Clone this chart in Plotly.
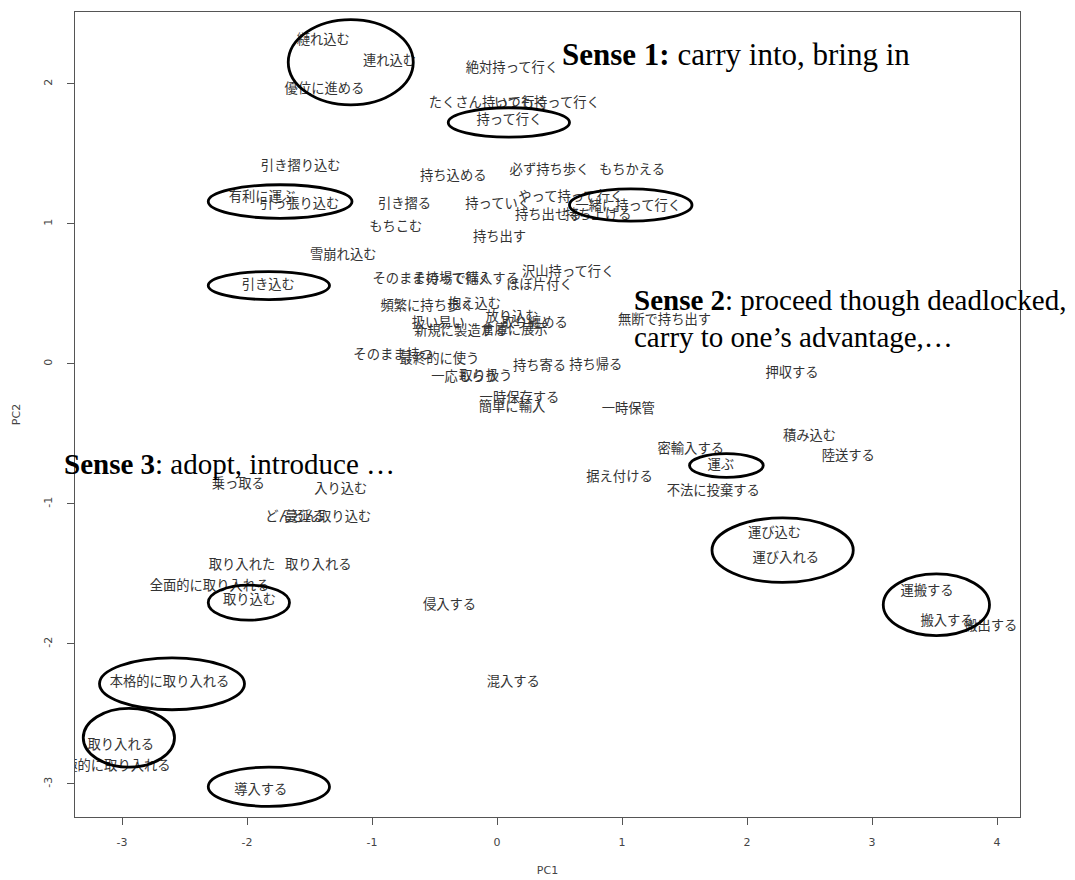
import plotly.graph_objects as go

# ---- data: PCA coordinates of the verbs/phrases ----
labels = [
    "縺れ込む", "連れ込む", "優位に進める", "絶対持って行く", "たくさん持って行く", "いつも持って行く",
    "持って行く", "引き摺り込む", "持ち込める", "必ず持ち歩く", "もちかえる", "有利に運ぶ",
    "引っ張り込む", "引き摺る", "持っていく", "やって持って行く", "持ち出せる", "持ち上げる",
    "一緒に持って行く", "もちこむ", "持ち出す", "雪崩れ込む", "引き込む", "そのまま持って行く",
    "その場で購入する", "沢山持って行く", "ほぼ片付く", "頻繁に持ち歩く", "抱え込む", "放り込む",
    "扱い易い", "取り纏める", "新規に製造する", "倉庫に展示", "無断で持ち出す", "そのまま持つ",
    "最終的に使う", "一応もらう", "取り扱う", "持ち寄る", "持ち帰る", "一時保存する",
    "簡単に輸入", "一時保管", "押収する", "積み込む", "陸送する", "密輸入する",
    "運ぶ", "据え付ける", "不法に投棄する", "運び込む", "運び入れる", "運搬する",
    "搬入する", "搬出する", "乗っ取る", "入り込む", "どんどん取り込む", "蔓延る",
    "取り入れた", "取り入れる", "全面的に取り入れる", "取り込む", "侵入する", "本格的に取り入れる",
    "混入する", "取り入れる", "積極的に取り入れる", "導入する",
]
pc1 = [
    -1.39, -0.86, -1.38, 0.12, -0.07, 0.40,
    0.10, -1.57, -0.35, 0.42, 1.08, -1.88,
    -1.58, -0.74, 0.01, 0.59, 0.41, 0.81,
    1.05, -0.81, 0.02, -1.23, -1.83, -0.52,
    -0.25, 0.57, 0.34, -0.56, -0.18, 0.12,
    -0.47, 0.30, -0.29, 0.14, 1.34, -0.83,
    -0.46, -0.26, -0.09, 0.34, 0.79, 0.18,
    0.12, 1.05, 2.36, 2.50, 2.81, 1.55,
    1.79, 0.98, 1.73, 2.22, 2.31, 3.44,
    3.60, 3.95, -2.07, -1.25, -1.43, -1.54,
    -2.04, -1.43, -2.30, -1.98, -0.38, -2.62,
    0.13, -3.01, -3.09, -1.89,
]
pc2 = [
    2.31, 2.16, 1.96, 2.11, 1.86, 1.86,
    1.74, 1.41, 1.34, 1.38, 1.38, 1.19,
    1.14, 1.14, 1.14, 1.19, 1.06, 1.06,
    1.12, 0.97, 0.90, 0.77, 0.56, 0.60,
    0.60, 0.65, 0.56, 0.41, 0.42, 0.33,
    0.29, 0.29, 0.23, 0.24, 0.31, 0.06,
    0.03, -0.10, -0.09, -0.02, -0.01, -0.25,
    -0.31, -0.33, -0.07, -0.52, -0.66, -0.61,
    -0.73, -0.81, -0.91, -1.21, -1.39, -1.63,
    -1.84, -1.88, -0.86, -0.90, -1.10, -1.10,
    -1.44, -1.44, -1.59, -1.69, -1.73, -2.28,
    -2.28, -2.73, -2.88, -3.05,
]

x_ticks = [-3, -2, -1, 0, 1, 2, 3, 4]
y_ticks = [-3, -2, -1, 0, 1, 2]

# highlight ellipses (x0, x1, y0, y1) in PC space
ellipses = [
    (-1.67, -0.67, 1.85, 2.46),
    (-0.39, 0.58, 1.62, 1.83),
    (-2.31, -1.16, 1.04, 1.28),
    (0.58, 1.56, 1.02, 1.25),
    (-2.31, -1.34, 0.46, 0.66),
    (1.54, 2.13, -0.81, -0.64),
    (1.72, 2.85, -1.56, -1.10),
    (3.09, 3.94, -1.94, -1.50),
    (-2.31, -1.66, -1.83, -1.58),
    (-3.18, -2.02, -2.47, -2.10),
    (-3.31, -2.58, -2.88, -2.46),
    (-2.31, -1.34, -3.16, -2.88),
]

fig = go.Figure()
fig.add_trace(go.Scatter(
    x=pc1, y=pc2, text=labels, mode="text",
    textposition="middle center",
    textfont=dict(family="Noto Sans CJK JP", size=13.3, color="#333333"),
    cliponaxis=True, hoverinfo="text", showlegend=False,
))

shapes = []
for (a0, a1, b0, b1) in ellipses:
    shapes.append(dict(type="circle", xref="x", yref="y", x0=a0, x1=a1, y0=b0, y1=b1,
                       line=dict(color="black", width=2.8)))

serif = "Liberation Serif, Times New Roman, serif"
annots = [
    dict(xref="x", yref="y", x=0.50, y=2.21, text="<b>Sense 1:</b> carry into, bring in", size=31),
    dict(xref="x", yref="y", x=1.08, y=0.46, text="<b>Sense 2</b>: proceed though deadlocked,", size=29),
    dict(xref="x", yref="y", x=1.08, y=0.19, text="carry to one\u2019s advantage,\u2026", size=29),
    dict(xref="paper", yref="paper", x=-0.0138, y=0.438, text="<b>Sense 3</b>: adopt, introduce \u2026", size=29),
]
for a in annots:
    sz = a.pop("size")
    a.update(showarrow=False, xanchor="left", yanchor="middle",
             font=dict(family=serif, size=sz, color="black"))

# the page body adds an 8px offset, so the figure is 8px smaller on each side
fig.update_layout(
    width=1067, height=872,
    margin=dict(l=67, r=55, t=4, b=63, autoexpand=False),
    paper_bgcolor="white", plot_bgcolor="white",
    shapes=shapes, annotations=annots,
    showlegend=False,
)
axis_font = dict(family="DejaVu Sans", size=11, color="#444444")
fig.update_xaxes(
    range=[-3.376, 4.184], tickvals=x_ticks, ticktext=[str(v) for v in x_ticks],
    showgrid=False, zeroline=False, showline=True, linecolor="#555555", linewidth=1.2,
    mirror=True, ticks="outside", ticklen=7, tickcolor="#555555",
    tickfont=axis_font, ticklabelstandoff=8, automargin=False,
    title=dict(text="PC1", font=axis_font, standoff=18),
)
fig.update_yaxes(
    range=[-3.236, 2.514], tickvals=y_ticks, ticktext=[str(v) for v in y_ticks],
    showgrid=False, zeroline=False, showline=True, linecolor="#555555", linewidth=1.2,
    mirror=True, ticks="outside", ticklen=7, tickcolor="#555555",
    tickfont=axis_font, tickangle=-90, ticklabelstandoff=11, automargin=False,
    title=dict(text="PC2", font=axis_font, standoff=18),
)

fig.write_html("out.html")
